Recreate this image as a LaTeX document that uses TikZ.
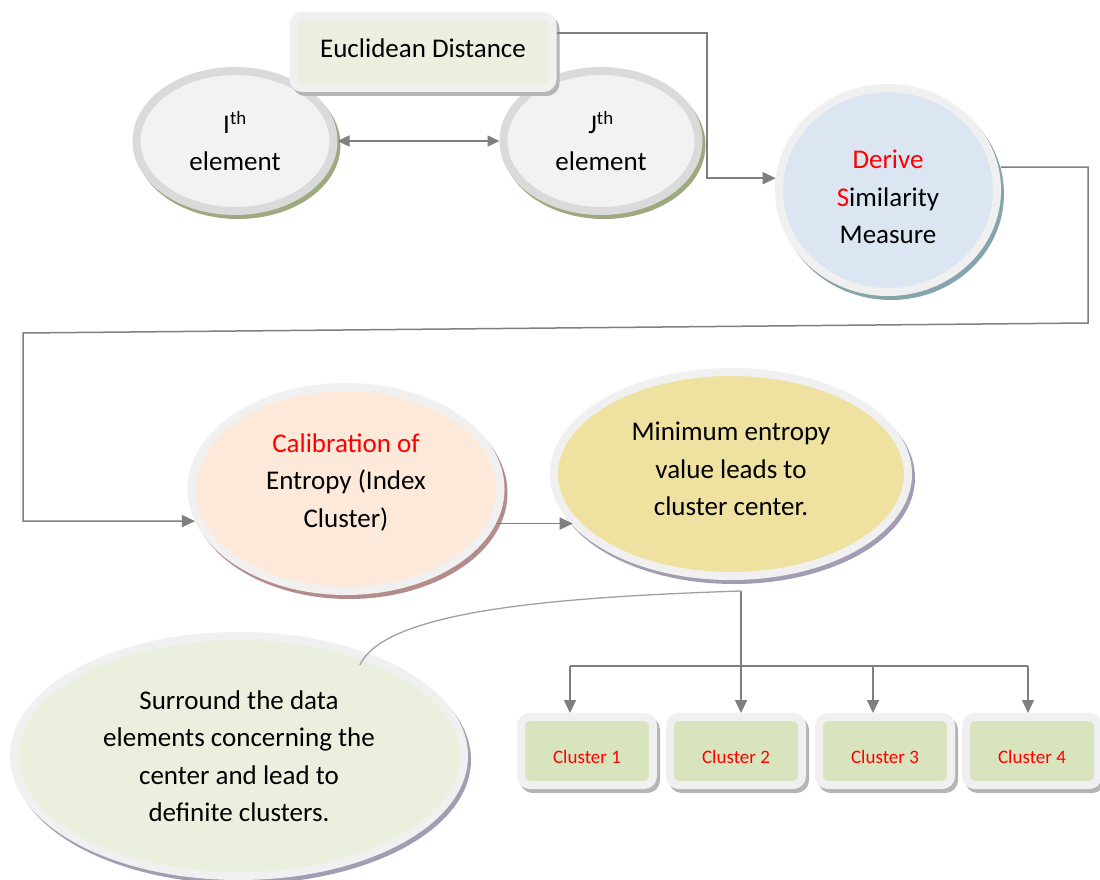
\documentclass[tikz,border=0pt]{standalone}
\usepackage{fontspec}
\setmainfont{Carlito}
\usetikzlibrary{arrows.meta,positioning,shapes.geometric,calc}
\definecolor{LinkGray}{HTML}{7F7F7F}
\definecolor{CurveGray}{HTML}{A0A0A0}
\definecolor{RimGray}{HTML}{F0F0F0}
\definecolor{RimDark}{HTML}{DADADA}
\definecolor{ElemFill}{HTML}{F2F2F2}
\definecolor{ElemShade}{HTML}{9DAA80}
\definecolor{EucFill}{HTML}{EBEFDF}
\definecolor{SimFill}{HTML}{DCE6F2}
\definecolor{SimShade}{HTML}{86A4AC}
\definecolor{CalFill}{HTML}{FCE9DA}
\definecolor{CalShade}{HTML}{B58C8C}
\definecolor{MinFill}{HTML}{EFE1A0}
\definecolor{MinShade}{HTML}{A39DB4}
\definecolor{SurFill}{HTML}{EBF0DE}
\definecolor{CluFill}{HTML}{D7E4BD}
\definecolor{BoxShade}{HTML}{B5B5B5}
\definecolor{WordRed}{HTML}{FF0000}

\tikzset{
  shaded/.style={preaction={draw=#1, fill=#1, transform canvas={xshift=3pt,yshift=-4pt}}},
  blobtext/.style={align=center, font=\fontsize{27}{37.5}\selectfont},
  blob/.style={ellipse, line width=8pt, draw=RimGray, inner sep=0pt, blobtext},
  card/.style={rectangle, rounded corners=9pt, line width=8pt, draw=RimGray, inner sep=0pt, align=center},
  link/.style={draw=LinkGray, line width=1.5pt, -{Triangle[length=13pt,width=12pt]}},
  bus/.style={draw=LinkGray, line width=1.5pt},
}

\begin{document}
\begin{tikzpicture}[x=1pt,y=-1pt]
\fill[white] (0,0) rectangle (1100,880);
\useasboundingbox (0,0) rectangle (1100,880);

% the two elements and the distance between them
\node[blob, fill=ElemFill, draw=RimDark, shaded=ElemShade, minimum width=197pt, minimum height=140pt] (ith) at (235,141) {I\textsuperscript{th}\\element};
\node[blob, fill=ElemFill, draw=RimDark, shaded=ElemShade, minimum width=195pt, minimum height=140pt] (jth) at (601,141) {J\textsuperscript{th}\\element};
\draw[bus, {Triangle[length=12pt,width=11pt]}-{Triangle[length=12pt,width=11pt]}] (ith) -- (jth);
\node[card, fill=EucFill, shaded=BoxShade, minimum width=259pt, minimum height=72pt, font=\fontsize{27}{30}\selectfont, text depth=8pt] (euc) at (423,52) {Euclidean Distance};

% similarity and entropy
\node[blob, fill=SimFill, shaded=SimShade, minimum width=218pt, minimum height=204pt,
  label={[blobtext, yshift=-7pt]center:\textcolor{WordRed}{Derive}\\\textcolor{WordRed}{S}imilarity\\Measure}] (der) at (888,190) {};
\node[blob, fill=CalFill, shaded=CalShade, minimum width=309pt, minimum height=204pt,
  label={[blobtext, yshift=7pt]center:\textcolor{WordRed}{Calibration of}\\Entropy (Index\\Cluster)}] (cal) at (346,489) {};
\node[blob, fill=MinFill, shaded=MinShade, minimum width=354pt, minimum height=204pt,
  label={[blobtext, yshift=5pt]center:Minimum entropy\\value leads to\\cluster center.}] (min) at (731,474) {};
\node[blob, fill=SurFill, shaded=MinShade, minimum width=450pt, minimum height=240pt] (sur) at (239,756) {Surround the data\\elements concerning the\\center and lead to\\definite clusters.};

% clusters
\foreach \i/\x in {1/587,2/736,3/885,4/1032}
  \node[card, fill=CluFill, shaded=BoxShade, minimum width=132pt, minimum height=68pt, font=\fontsize{19}{22}\selectfont, text=WordRed, text height=25pt, text depth=0pt] (c\i) at (\x,751) {Cluster \i};

% connectors
\coordinate (e1) at (707,33);
\coordinate (r1) at (1088,323);
\coordinate (l1) at (23,333);
\draw[link] ([yshift=19pt]euc.east) -- (e1) |- (der.174);
\draw[link] ([yshift=23pt]der.east) -| (r1) -- (l1) |- (cal.192);
\draw[link] (cal.347) -- (cal.347 -| min.198);

\coordinate (hub) at (741,591);
\coordinate (tail) at (360,665);
\coordinate (b1) at (570,666);
\coordinate (b3) at (873,666);
\coordinate (b4) at (1028,666);
\draw[link] (hub) -- (c2.north -| hub);
\draw[bus] (b1) -- (b4);
\foreach \i in {1,3,4}
  \draw[link] (b\i) -- (c\i.north -| b\i);
\draw[draw=CurveGray, line width=1.3pt] (hub) .. controls (560,597) and (385,610) .. (tail);
\end{tikzpicture}
\end{document}
